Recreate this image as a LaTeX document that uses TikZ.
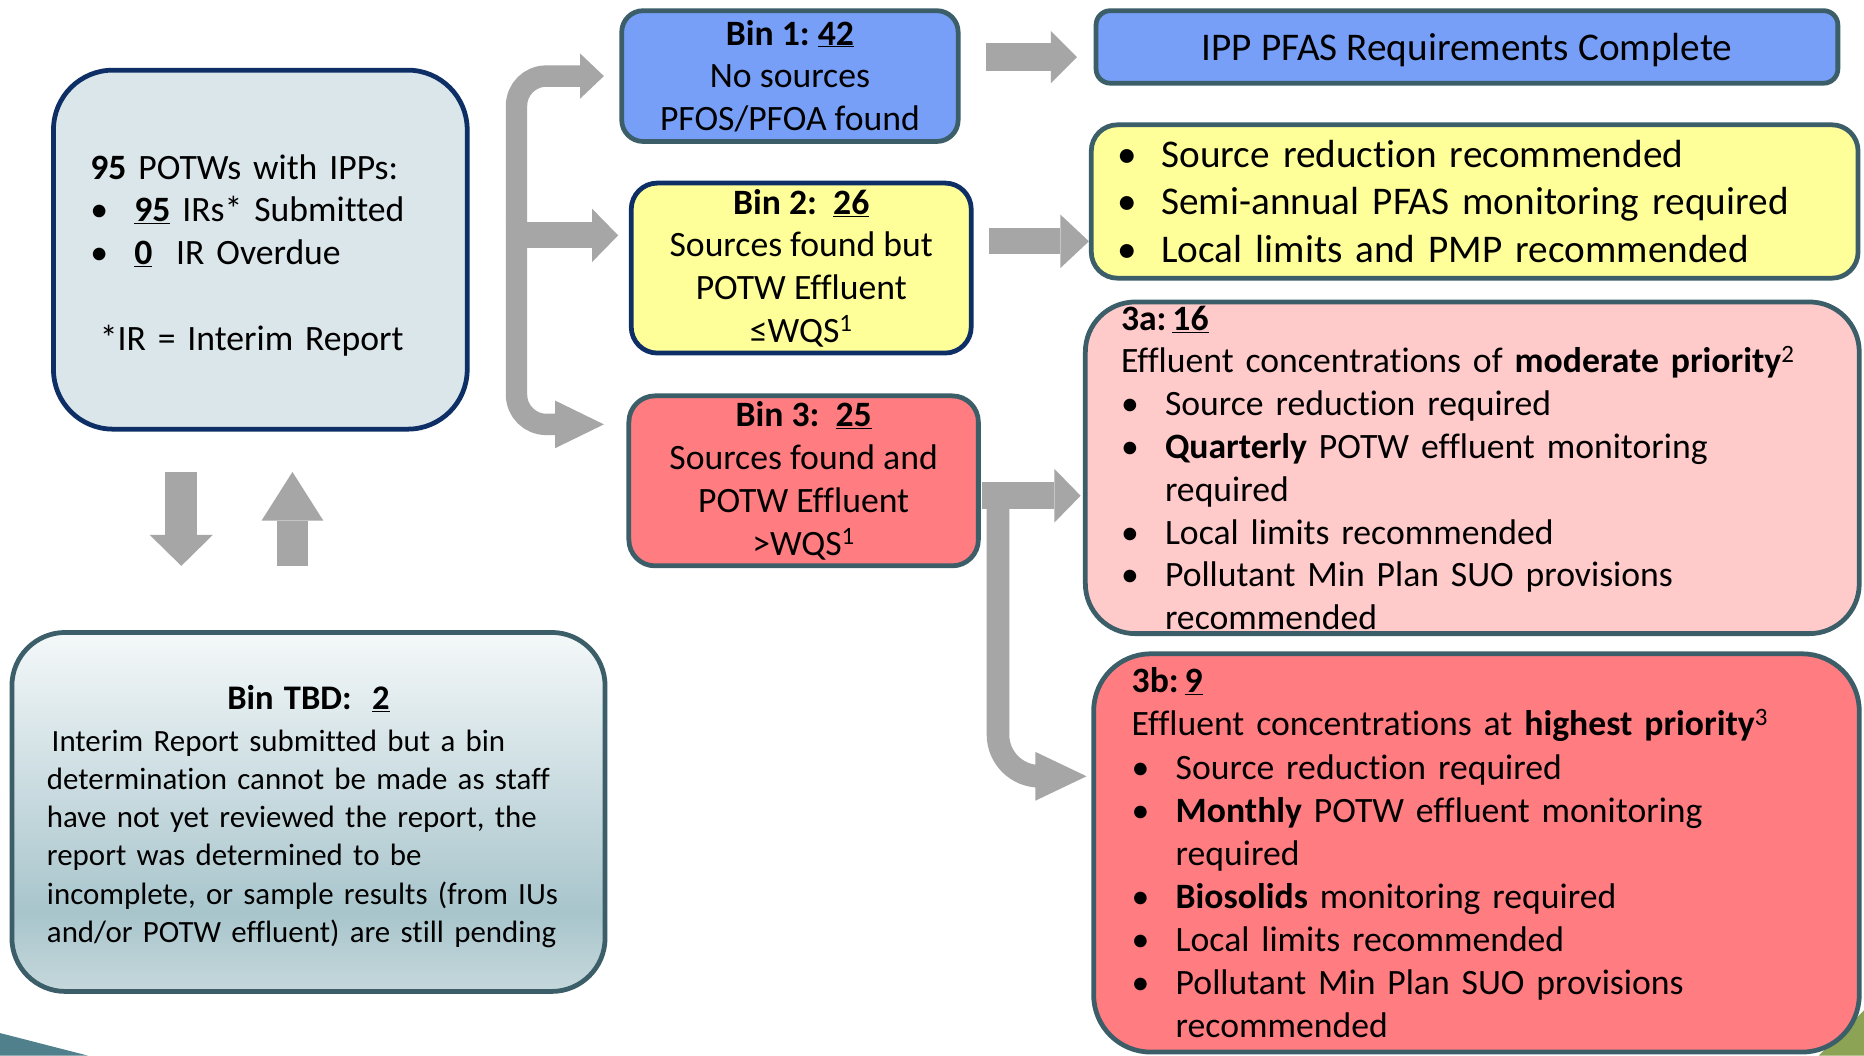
\documentclass[tikz,border=0pt]{standalone}
\usepackage{fontspec}
\setmainfont{Carlito}[Ligatures=NoCommon]
\usetikzlibrary{calc}
\definecolor{slate}{HTML}{3B5E68}
\definecolor{navy}{HTML}{0E2F66}
\definecolor{potwfill}{HTML}{DAE6EA}
\definecolor{binblue}{HTML}{779FF7}
\definecolor{binyellow}{HTML}{FFFF99}
\definecolor{binred}{HTML}{FF7C80}
\definecolor{binpink}{HTML}{FFCACA}
\definecolor{arrowgray}{HTML}{A6A6A6}
\definecolor{tbdtop}{HTML}{F4F8F9}
\definecolor{tbddark}{HTML}{A8C5CC}
\definecolor{tbdbot}{HTML}{C6D8DC}
\definecolor{decoteal}{HTML}{4F808B}
\definecolor{decoolive}{HTML}{8CA255}
\pgfdeclareverticalshading{tbdshade}{100bp}{color(0bp)=(tbdbot); color(25bp)=(tbdbot); color(36bp)=(tbddark); color(75bp)=(tbdtop); color(100bp)=(tbdtop)}
\newcommand{\bul}{\makebox[37pt][l]{•}}
\newcommand{\ind}{\hspace*{37pt}}
\begin{document}
\frenchspacing
\begin{tikzpicture}[x=1pt,y=-1pt,
  box/.style={draw=slate, line width=4pt, inner sep=0pt, rounded corners=18pt},
  navybox/.style={box, draw=navy},
  fbin/.style={font=\fontsize{30pt}{36pt}\selectfont},
  fbig/.style={font=\fontsize{33pt}{40pt}\selectfont},
  fsmall/.style={font=\fontsize{26pt}{32.2pt}\selectfont},
  gshaft/.style={draw=arrowgray, line cap=butt},
  ghead/.style={fill=arrowgray}]
\useasboundingbox (0,0) rectangle (1568,888);
\fill[white] (0,0) rectangle (1568,888);
% slide decorations
\fill[decoteal] (0,869) -- (74,888) -- (0,888) -- cycle;
\fill[decoolive] (1568,850) -- (1530,888) -- (1568,888) -- cycle;

% boxes
\node[navybox, fill=potwfill, rounded corners=50pt, minimum width=348pt, minimum height=302pt,
      fbin, text width=286pt, align=left] (potw) at (219,210)
 {\rule{0pt}{30pt}\textbf{95} POTWs with IPPs:\\
  \bul\textbf{\underline{95}} IRs* Submitted\\
  \bul\textbf{\underline{0}}\ \ IR Overdue\\[36pt]
  \hspace*{8pt}*IR = Interim Report};

\node[box, fill=binblue, minimum width=283pt, minimum height=110pt, fbin, align=center] (bin1) at (664.5,64)
 {\textbf{Bin 1: \underline{42}}\\No sources\\PFOS/PFOA found};

\node[navybox, fill=binyellow, rounded corners=22pt, minimum width=286pt, minimum height=143pt, fbin, align=center] (bin2) at (674,225.5)
 {\textbf{Bin 2:\ \ \underline{26}}\\Sources found but\\POTW Effluent\\≤WQS\textsuperscript{1}};

\node[box, fill=binred, rounded corners=22pt, minimum width=294pt, minimum height=143pt, fbin, align=center] (bin3) at (676,404.5)
 {\textbf{Bin 3:\ \ \underline{25}}\\Sources found and\\POTW Effluent\\>WQS\textsuperscript{1}};

\node[box, fill=binblue, rounded corners=12pt, minimum width=624pt, minimum height=61pt, fbig,
      text depth=0pt, align=center] (ipp) at (1234,39.5)
 {IPP PFAS Requirements Complete};

\node[box, fill=binyellow, rounded corners=22pt, minimum width=645pt, minimum height=129pt, fbig,
      text width=601pt, align=left] (yl) at (1240.5,169.5)
 {\bul Source reduction recommended\\
  \bul Semi-annual PFAS monitoring required\\
  \bul Local limits and PMP recommended};

\node[box, fill=binpink, rounded corners=42pt, minimum width=651pt, minimum height=279pt, fbin,
      text width=591pt, align=left] (b3a) at (1238.5,393.5)
 {\textbf{3a:\hspace{5pt}\underline{16}}\\
  Effluent concentrations of \textbf{moderate priority}\textsuperscript{2}\\
  \bul Source reduction required\\
  \bul\textbf{Quarterly} POTW effluent monitoring\\
  \ind required\\
  \bul Local limits recommended\\
  \bul Pollutant Min Plan SUO provisions\\
  \ind recommended};

\node[box, fill=binred, rounded corners=48pt, minimum width=644pt, minimum height=335pt,
      font=\fontsize{30pt}{36.3pt}\selectfont,
      text width=580pt, align=left] (b3b) at (1242,717.5)
 {\textbf{3b:\hspace{5pt}\underline{9}}\\
  Effluent concentrations at \textbf{highest priority}\textsuperscript{3}\\
  \bul Source reduction required\\
  \bul\textbf{Monthly} POTW effluent monitoring\\
  \ind required\\
  \bul\textbf{Biosolids} monitoring required\\
  \bul Local limits recommended\\
  \bul Pollutant Min Plan SUO provisions\\
  \ind recommended};

\node[box, shade, shading=tbdshade, rounded corners=45pt, minimum width=499pt, minimum height=302pt, fsmall,
      text width=440pt, align=left] (tbd) at (259.5,683)
 {\rule{0pt}{28pt}\makebox[440pt]{\fontsize{29pt}{32pt}\selectfont\textbf{Bin TBD:\ \ \underline{2}}}\\[3pt]
  \hspace*{4pt}Interim Report submitted but a bin\\
  determination cannot be made as staff\\
  have not yet reviewed the report, the\\
  report was determined to be\\
  incomplete, or sample results (from IUs\\
  and/or POTW effluent) are still pending};

% branch arrow from the POTW box to the three bins
\coordinate (trunk) at (434.5,200);
\coordinate (t1) at ($(bin1.west)+(-13,0)$);
\coordinate (t2) at ($(bin2.west)+(-9,-27.5)$);
\coordinate (t3) at ($(bin3.west)+(-19,-47.5)$);
\draw[gshaft, line width=18pt, rounded corners=25pt]
  ($(t1)+(-20,0)$) -- (t1 -| trunk) -- (t3 -| trunk) -- ($(t3)+(-41,0)$);
\fill[ghead] (t1) -- ++(-20,-19) -- ++(0,38) -- cycle;
\fill[ghead] (t3) -- ++(-41,-20) -- ++(0,40) -- cycle;
\draw[gshaft, line width=22pt] ($(t2 -| trunk)+(-9,0)$) -- ($(t2)+(-22,0)$);
\fill[ghead] (t2) -- ++(-22,-22.5) -- ++(0,45) -- cycle;

% bin 1 -> complete
\coordinate (t6) at ($(ipp.west)+(-14,8.5)$);
\draw[gshaft, line width=24pt] ($(bin1.east)+(21,-16)$) -- ($(t6)+(-22,0)$);
\fill[ghead] (t6) -- ++(-22,-22) -- ++(0,44) -- cycle;

% bin 2 -> list
\coordinate (t7) at ($(yl.west)+(0,33.5)$);
\draw[gshaft, line width=22pt] ($(bin2.east)+(13,-22.5)$) -- ($(t7)+(-24,0)$);
\fill[ghead] (t7) -- ++(-24,-22.5) -- ++(0,45) -- cycle;

% bin 3 -> 3a and 3b
\coordinate (t4) at ($(b3a.west)+(-2,23.5)$);
\coordinate (t5) at ($(b3b.west)+(-4,-64.5)$);
\coordinate (trunkb) at (839.5,500);
\draw[gshaft, line width=23pt] ($(bin3.east)+(1,12.5)$) -- ($(t4)+(-22,0)$);
\fill[ghead] (t4) -- ++(-22,-22.5) -- ++(0,45) -- cycle;
\draw[gshaft, line width=19pt, rounded corners=35pt]
  (t4 -| trunkb) -- (t5 -| trunkb) -- ($(t5)+(-43,0)$);
\fill[ghead] (t5) -- ++(-43,-20.5) -- ++(0,41) -- cycle;

% down / up arrows between POTW box and Bin TBD
\coordinate (d0) at ($(potw.south)+(-66.5,34)$);
\coordinate (d1) at ($(tbd.north)+(-107,-54)$);
\draw[gshaft, line width=27pt] (d0) -- ($(d1)+(0,-26)$);
\fill[ghead] (d1) -- ++(-26.5,-26) -- ++(53,0) -- cycle;
\coordinate (u0) at ($(tbd.north)+(-13.5,-54)$);
\coordinate (u1) at ($(potw.south)+(27,34)$);
\draw[gshaft, line width=26pt] (u0) -- ($(u1)+(0,41)$);
\fill[ghead] (u1) -- ++(-26,41) -- ++(52,0) -- cycle;
\end{tikzpicture}
\end{document}
